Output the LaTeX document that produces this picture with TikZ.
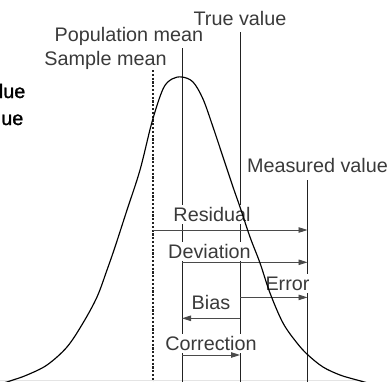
\documentclass[tikz,border=0pt]{standalone}
\usepackage{fontspec}
\setmainfont[FakeStretch=1.01]{Liberation Sans}
\newfontfamily\edgefont[FakeStretch=1.01,FakeBold=1.2]{Liberation Sans}
\usetikzlibrary{arrows.meta}
\definecolor{linecol}{HTML}{222222}
\definecolor{arrcol}{HTML}{4A4A4A}
\definecolor{textcol}{HTML}{3A3A3A}
\definecolor{faint}{HTML}{E4E4E4}
\tikzset{
  vline/.style={line width=1.0pt, draw=linecol},
  dotline/.style={line width=1.1pt, draw=linecol, dash pattern=on 2.2pt off 1.6pt},
  arr/.style={line width=0.9pt, draw=arrcol, -{Triangle[length=9pt,width=5.5pt]}},
  bellcurve/.style={line width=1.15pt, draw=black},
  lab/.style={font=\fontsize{19.6pt}{21pt}\selectfont, text=textcol, inner sep=0pt, anchor=base},
  arrlab/.style={lab, fill=white, inner xsep=2pt, inner ysep=2pt, text height=14pt, text depth=1pt},
  edgelab/.style={font=\edgefont\fontsize{19.6pt}{21pt}\selectfont, text=black, inner sep=0pt, anchor=base east},
  faintline/.style={line width=0.8pt, draw=faint}
}
\begin{document}
\begin{tikzpicture}[x=1pt,y=-1pt]
\useasboundingbox (0,0) rectangle (391,381);
\clip (0,0) rectangle (391,381);

% cropped text at the left edge
\node[edgelab] (edge1) at (25.5,98) {lue};
\node[edgelab] (edge2) at (23.5,125) {ue};

% faint bottom line
\coordinate (fl1) at (0,380.5);
\coordinate (fl2) at (363,380.5);
\draw[faintline] (fl1) -- (fl2);

% header labels
\node[lab] (tv) at (240,25) {True value};
\node[lab] (pm) at (129,41) {Population mean};
\node[lab] (sm) at (105.5,65) {Sample mean};
\node[lab] (mv) at (317.5,172) {Measured value};

% vertical lines
\coordinate (smT) at (153,70);  \coordinate (smB) at (153,382);
\coordinate (pmT) at (182,48);  \coordinate (pmB) at (182,382);
\coordinate (tvT) at (240,32);  \coordinate (tvB) at (240,382);
\coordinate (mvT) at (307.5,180); \coordinate (mvB) at (307.5,382);
\draw[dotline] (smT) -- (smB);
\draw[vline] (pmT) -- (pmB);
\draw[vline] (tvT) -- (tvB);
\draw[vline] (mvT) -- (mvB);

% arrow labels (white backgrounds break the lines)
\node[arrlab] (res) at (212,221) {Residual};
\node[arrlab] (dev) at (209.5,258) {Deviation};
\node[arrlab] (err) at (287.5,290) {Error};
\node[arrlab] (bias) at (211,309) {Bias};
\node[arrlab] (corr) at (211,350) {Correction};

% arrows
\coordinate (resA) at (153,230);   \coordinate (resB) at (307.5,230);
\coordinate (devA) at (182,262.3); \coordinate (devB) at (307.5,262.3);
\coordinate (errA) at (240,297.4); \coordinate (errB) at (307.5,297.4);
\coordinate (biasA) at (240,318.3); \coordinate (biasB) at (182,318.3);
\coordinate (corA) at (182,355);   \coordinate (corB) at (240,355);
\draw[arr] (resA) -- (resB);
\draw[arr] (devA) -- (devB);
\draw[arr] (errA) -- (errB);
\draw[arr] (biasA) -- (biasB);
\draw[arr] (corA) -- (corB);

% bell curve
\draw[bellcurve] plot[smooth, tension=0.55] coordinates {
 (2,383.5) (13,380) (27,375) (47,365) (67,347) (83,323) (97,297) (107,270)
 (115,247) (127,210) (140,170) (152,122) (163,89) (172,79) (182,77)
 (193,82) (203,99) (213,127) (223,157) (233,187) (240,207) (250,237)
 (260,263) (270,293) (283,323) (297,343) (308,355) (323,367) (340,375)
 (357,380) (368,383)};
\end{tikzpicture}
\end{document}
